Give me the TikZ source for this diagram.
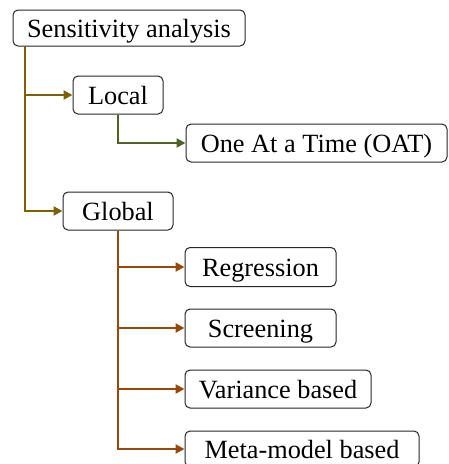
\documentclass[tikz,border=0pt]{standalone}
\usepackage{fontspec}
\setmainfont{Liberation Serif}
\usetikzlibrary{arrows.meta}
\definecolor{goldline}{HTML}{7F6000}
\definecolor{greenline}{HTML}{4F6228}
\definecolor{brownline}{HTML}{984807}
\tikzset{
  box/.style={draw=black!85, line width=1pt, rounded corners=5pt, fill=white,
    inner sep=0pt, text height=19pt, text depth=0pt,
    font=\fontsize{26.3}{30}\selectfont, anchor=center},
  conn/.style={line width=2.7pt, -{Triangle[length=9pt,width=9pt]}},
}
\begin{document}
\begin{tikzpicture}[x=1pt,y=-1pt]
\useasboundingbox (0,0) rectangle (449,464);
\clip (0,0) rectangle (449,464);
\node[box, minimum width=232pt, minimum height=36pt] (sa) at (129,28) {Sensitivity analysis};
\node[box, minimum width=90pt, minimum height=38pt] (local) at (118,95) {Local};
\node[box, minimum width=261pt, minimum height=38pt] (oat) at (316.5,143) {One At a Time (OAT)};
\node[box, minimum width=110pt, minimum height=38pt] (global) at (118,211) {Global};
\node[box, minimum width=151pt, minimum height=39pt] (reg) at (260.5,267) {Regression};
\node[box, minimum width=151pt, minimum height=38pt] (scr) at (260.5,328) {Screening};
\node[box, minimum width=186pt, minimum height=38pt] (var) at (278,389) {Variance based};
\node[box, minimum width=234pt, minimum height=36pt] (meta) at (302,449) {Meta-model based};

\coordinate (satrunk) at (25,46);
\draw[conn, goldline] (satrunk) |- (local.west);
\draw[conn, goldline] (satrunk) |- (global.west);
\draw[conn, greenline] (local.south) |- (oat.west);
\draw[conn, brownline] (global.south) |- (reg.west);
\draw[conn, brownline] (global.south) |- (scr.west);
\draw[conn, brownline] (global.south) |- (var.west);
\draw[conn, brownline] (global.south) |- (meta.west);
\end{tikzpicture}
\end{document}
